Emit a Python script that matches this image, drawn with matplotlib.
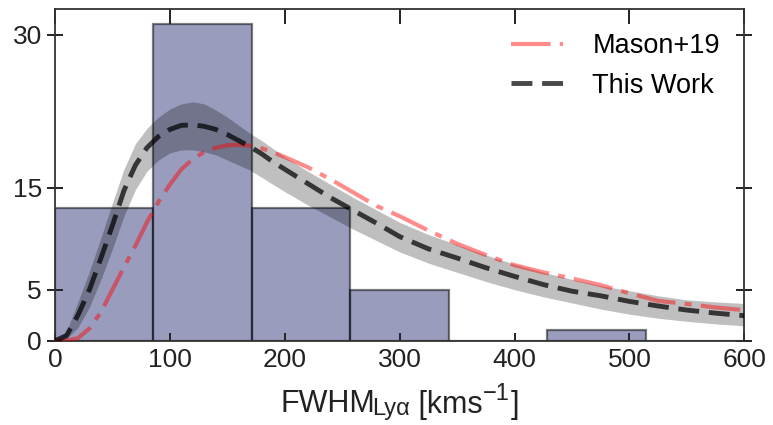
import numpy as np
import matplotlib
matplotlib.use("Agg")
import matplotlib.pyplot as plt

plt.rcParams['font.family'] = ['Liberation Sans', 'DejaVu Sans']

# Histogram of observed Lya FWHM (7 equal bins over 0-600 km/s)
bin_edges = np.linspace(0, 600, 8)
bin_counts = [13, 31, 13, 5, 0, 1, 0]

# Model curves sampled on a FWHM grid [km/s]
fwhm = [0, 10, 20, 30, 40, 50, 60, 70, 80, 90, 100, 110, 120, 130, 140, 150,
        160, 170, 180, 190, 200, 220, 240, 260, 280, 300, 325, 350, 375, 400,
        425, 450, 475, 500, 525, 550, 575, 600]

this_work = [0, 0.5, 2.5, 5.0, 8.1, 11.3, 14.7, 17.2, 18.9, 20.0, 20.7, 21.1,
             21.15, 21.0, 20.7, 20.2, 19.6, 19.0, 18.3, 17.5, 16.8, 15.4, 14.0,
             12.75, 11.5, 10.2, 9.0, 8.1, 7.15, 6.3, 5.5, 4.85, 4.4, 3.85, 3.4,
             3.0, 2.7, 2.45]
this_work_hi = [0, 0.9, 3.8, 6.8, 10.1, 13.5, 16.8, 19.3, 20.8, 21.9, 22.7,
                23.2, 23.4, 23.2, 22.6, 21.9, 21.1, 20.3, 19.6, 18.8, 18.0,
                16.6, 15.3, 14.0, 12.8, 11.6, 10.4, 9.4, 8.4, 7.5, 6.7, 6.0,
                5.4, 4.9, 4.4, 4.0, 3.8, 3.65]
this_work_lo = [0, 0.2, 1.3, 3.3, 6.0, 9.0, 12.2, 14.8, 16.6, 17.7, 18.4, 18.7,
                18.7, 18.5, 18.2, 17.7, 17.2, 16.7, 16.0, 15.3, 14.6, 13.3,
                12.1, 10.9, 9.8, 8.7, 7.6, 6.7, 5.8, 5.0, 4.3, 3.7, 3.1, 2.6,
                2.2, 1.9, 1.65, 1.45]
mason19 = [0, 0.02, 0.25, 1.2, 2.8, 5.0, 7.2, 9.3, 11.6, 13.6, 15.3, 16.8,
           17.8, 18.5, 18.9, 19.15, 19.2, 19.1, 18.85, 18.45, 18.0, 17.0, 15.8,
           14.5, 13.2, 12.2, 10.8, 9.5, 8.4, 7.4, 6.7, 6.1, 5.45, 4.65, 3.9,
           3.6, 3.25, 3.0]

x_ticks = [0, 100, 200, 300, 400, 500, 600]
y_ticks = [0, 5, 15, 30]

W, H = 773, 425
fig = plt.figure(figsize=(W / 100, H / 100), dpi=100)
ax = fig.add_axes([55 / W, 1 - 340.7 / H, (744.3 - 55) / W, (340.7 - 9) / H])

ax.hist(bin_edges[:-1], bins=bin_edges, weights=bin_counts,
        color='#353a7a', alpha=0.5, edgecolor='k', linewidth=1.6, zorder=1)

ax.fill_between(fwhm, this_work_lo, this_work_hi, color='k', alpha=0.25,
                linewidth=0, zorder=2)
ax.plot(fwhm, mason19, color='red', alpha=0.45, lw=3.0,
        linestyle=(0, (9.5, 2.2, 1.7, 2.2)), label='Mason+19', zorder=3)
ax.plot(fwhm, this_work, color='k', alpha=0.72, lw=3.5,
        linestyle=(0, (4.3, 2.0)), label='This Work', zorder=4)

ax.set_xlim(0, 600)
ax.set_ylim(0, 32.5)
ax.set_xticks(x_ticks)
ax.set_yticks(y_ticks)
ax.tick_params(axis='both', labelsize=19, colors='#222222', width=1.4)
ax.tick_params(axis='x', direction='in', length=5.5, top=True, pad=5)
ax.tick_params(axis='y', direction='inout', length=11, right=True, pad=4)
for t in ax.xaxis.get_major_ticks():
    t.tick2line.set_marker(3)  # top ticks cross the spine
    t.tick2line.set_markersize(11)
for s in ax.spines.values():
    s.set_color('#333333')
    s.set_linewidth(1.3)

ax.legend(loc='upper right', frameon=False, fontsize=19.5, handlelength=1.9,
          handletextpad=1.1, labelspacing=0.5, borderaxespad=0.5)

# x-axis label assembled from pieces: (text, fontsize, baseline shift in px)
label_parts = [('FWHM', 22, 0.0), ('Ly\u03b1', 17, -2.7),
               (' [kms', 22, 0.0), ('\u22121', 17, 12.0), (']', 22, 0.0)]
baseline_px = H - 412.5
renderer = fig.canvas.get_renderer()
pieces = []
for txt, size, shift in label_parts:
    t = fig.text(0, (baseline_px + shift) / H, txt, fontsize=size,
                 va='baseline', ha='left', color='#222222')
    pieces.append(t)
widths = [p.get_window_extent(renderer).width for p in pieces]
gaps = [0, -3.0, 0, 1.0, 0.5]
total = sum(widths) + sum(gaps)
x = (55 + 744.3) / 2 - total / 2
for p, w, g in zip(pieces, widths, gaps):
    x += g
    p.set_x(x / W)
    x += w

fig.savefig('out.png', dpi=100)
